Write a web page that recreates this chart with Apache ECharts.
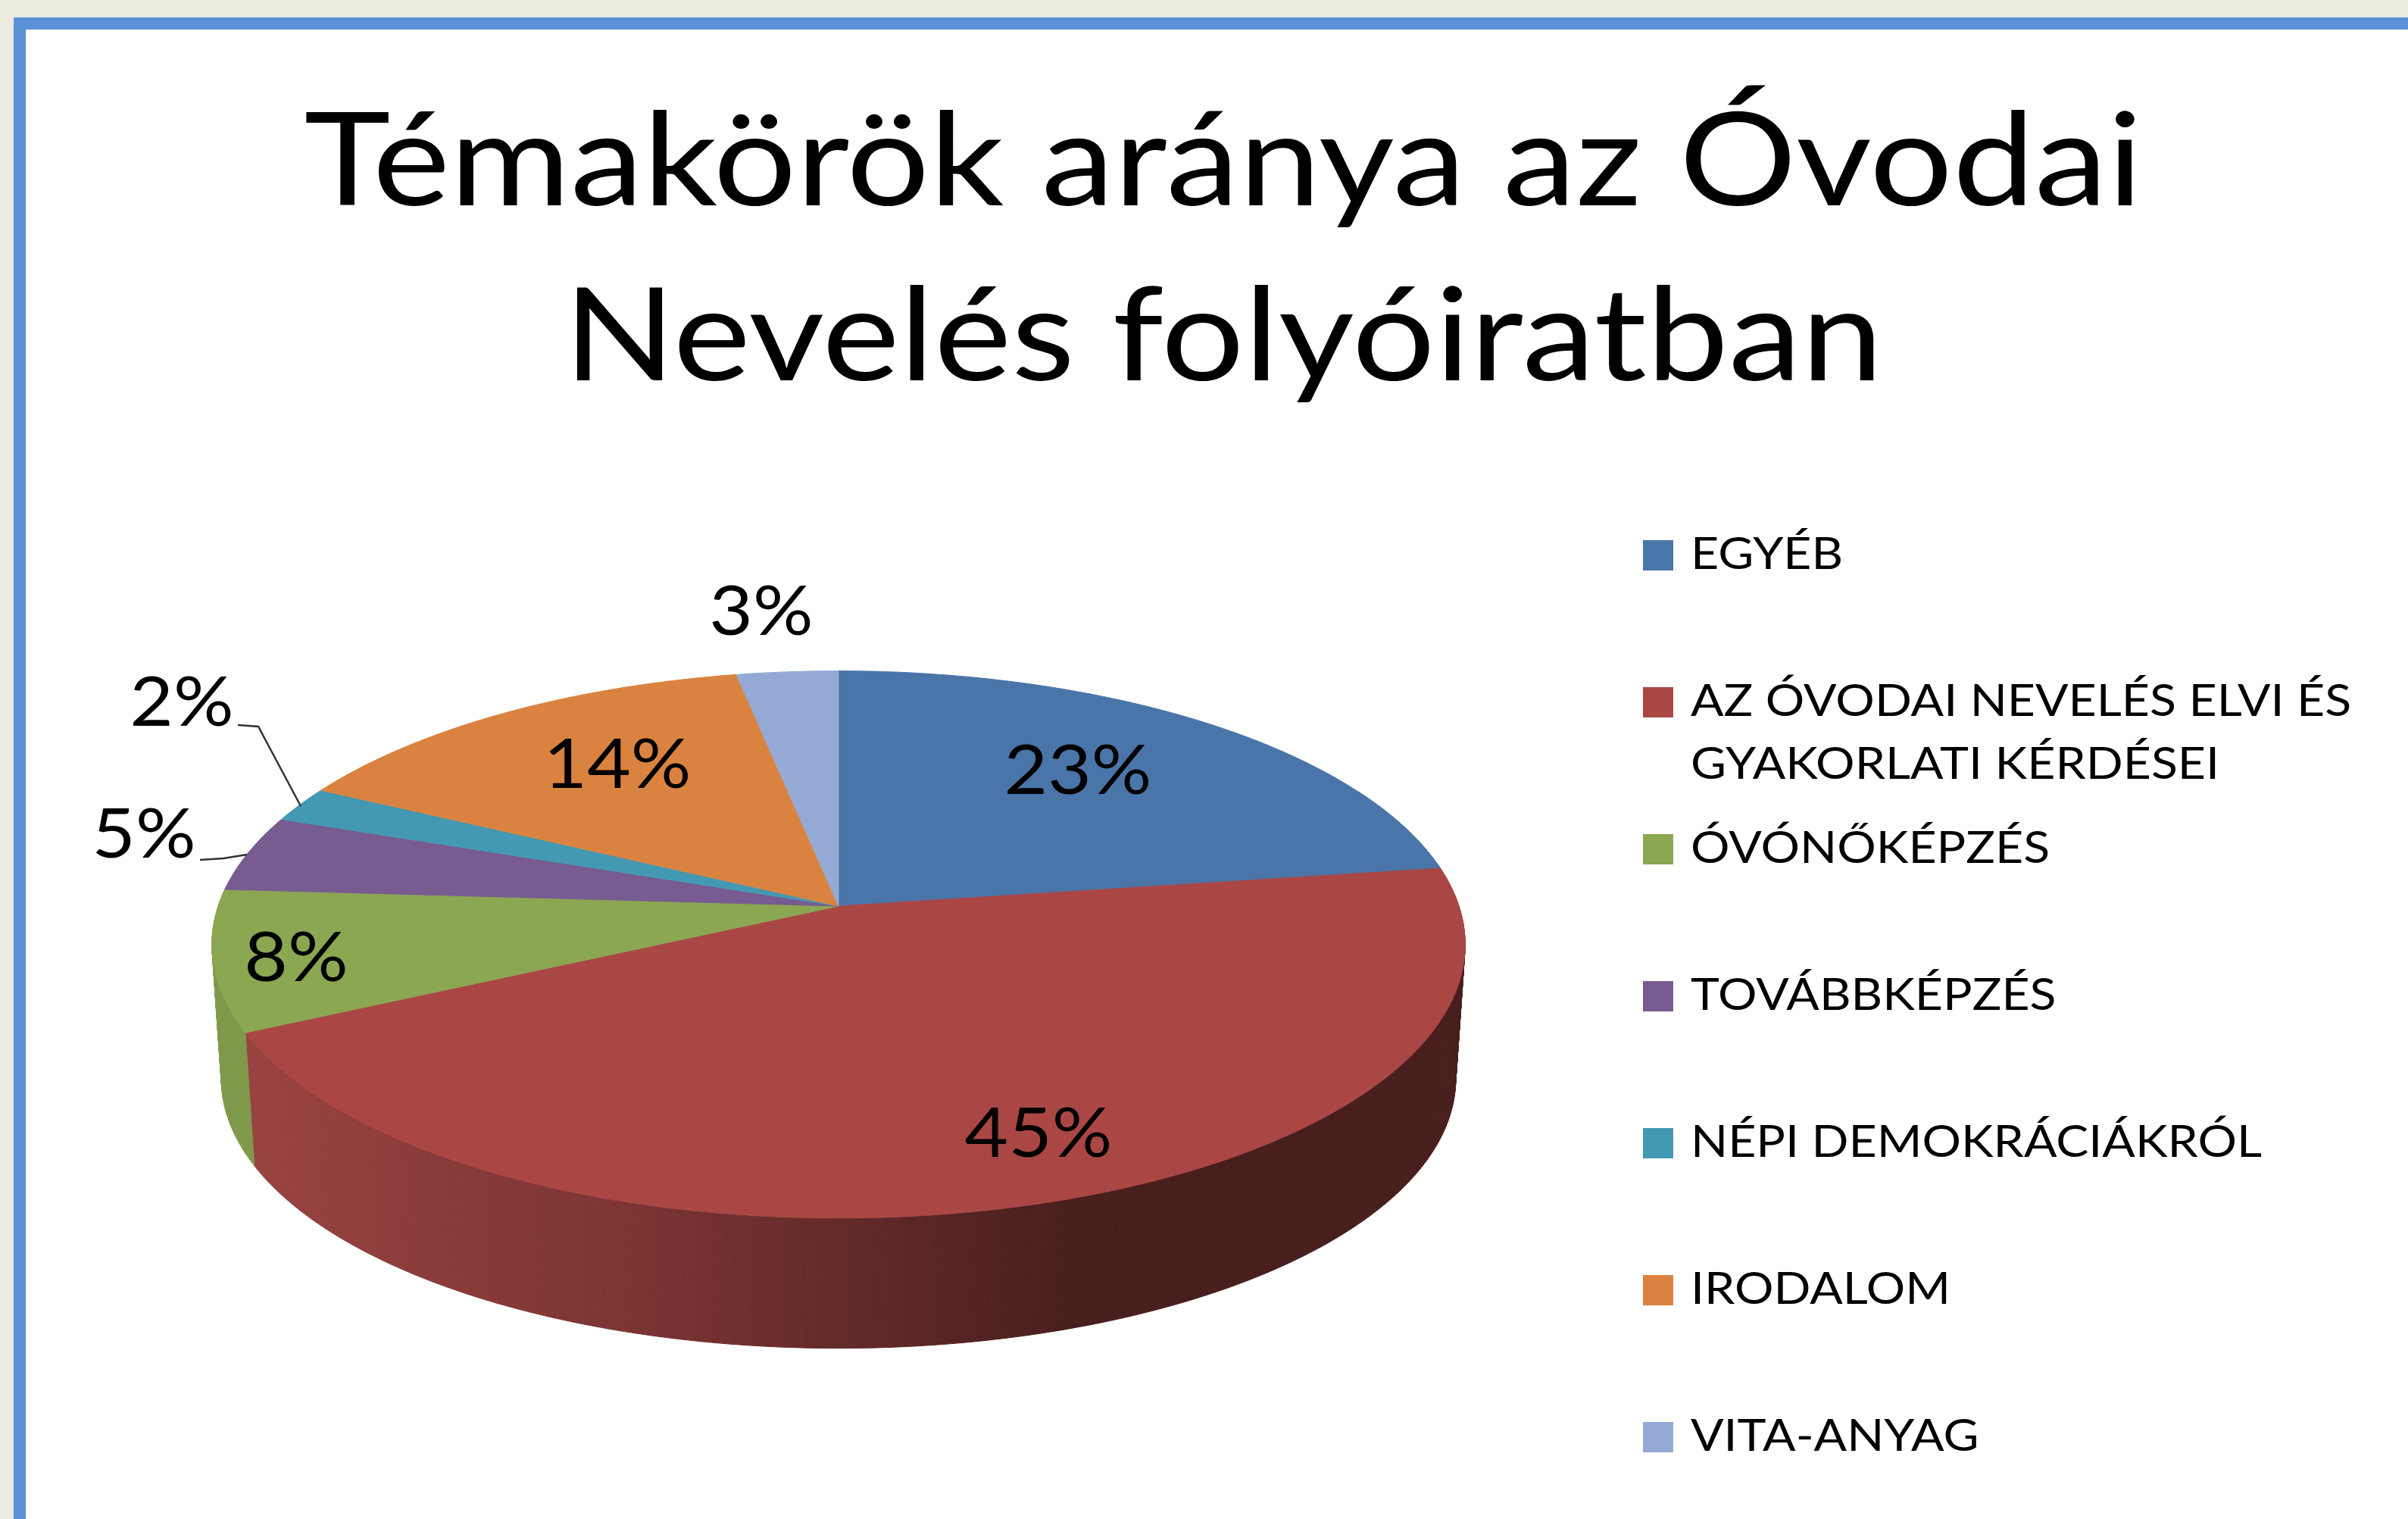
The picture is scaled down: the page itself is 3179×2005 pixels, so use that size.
<!DOCTYPE html>
<html>
<head>
    <meta charset="utf-8">
    <title>Témakörök aránya</title>
    <script src="https://cdnjs.cloudflare.com/ajax/libs/echarts/6.0.0/echarts.min.js"></script>
    <style>
        html, body { margin: 0; padding: 0; background: #ecebdf; overflow: hidden; }
        #frame { position: absolute; left: 18px; top: 23px; width: 3161px; height: 1982px; background: #5b91d6; }
        #inner { position: absolute; left: 34px; top: 39px; width: 3145px; height: 1966px; background: #fff; }
        #chart { position: absolute; left: 0; top: 0; width: 3179px; height: 2005px; }
    </style>
</head>
<body>
<div id="frame"></div>
<div id="inner"></div>
<div id="chart"></div>

<script>
const titleLines = ['Témakörök aránya az Óvodai', 'Nevelés folyóiratban'];
const categories = ['EGYÉB', 'AZ ÓVODAI NEVELÉS ELVI ÉS\nGYAKORLATI KÉRDÉSEI', 'ÓVÓNŐKÉPZÉS', 'TOVÁBBKÉPZÉS', 'NÉPI DEMOKRÁCIÁKRÓL', 'IRODALOM', 'VITA-ANYAG'];
// estimated from the slice edges, the labels show them rounded
const values = [22.7, 45, 8.3, 4.5, 2.1, 14.4, 3];
const colors = ['#4a75a9', '#aa4745', '#8ba751', '#775b91', '#4499b2', '#da8340', '#94aad4'];

// label places on the page, same order as values
const labelPos = [[1423, 1018], [1371, 1497], [391, 1265], [190, 1102], [240, 928], [815, 1010], [1005, 808]];
const leaders = { 3: [[264, 1135], [295, 1133], [326, 1128]], 4: [[314, 957], [341, 959], [397, 1064]] };

const FONT = 'Lato, "Open Sans", sans-serif';

// tilted disc: circle -> page with a little perspective, the far side is shorter
const apexX = 1107, apexY = 1196, radX = 819, radY = 354, persp = 0.1404;
const baseY = 1374, baseScale = 0.985;

const total = values.reduce((a, b) => a + b, 0);
let run = 0;
const starts = values.map(v => { const s = run; run += v; return s; });
const toAngle = v => v / total * Math.PI * 2;

function project(theta, scale, originY) {
    const d = 1 + persp * Math.cos(theta);
    return [apexX + scale * radX * Math.sin(theta) / d, originY - scale * radY * Math.cos(theta) / d];
}

function arc(from, to, scale, originY) {
    const n = Math.max(2, Math.ceil((to - from) / 0.01));
    const pts = [];
    for (let i = 0; i <= n; i++) pts.push(project(from + (to - from) * i / n, scale, originY));
    return pts;
}

const redSide = new echarts.graphic.LinearGradient(330, 0, 1420, 0, [
    { offset: 0, color: '#984340' },
    { offset: 0.45, color: '#7c3533' },
    { offset: 1, color: '#481f1d' }
], true);
const sideColors = ['#3a5c86', redSide, '#7f994b', '#5d4772', '#35788c', '#ad6932', '#7688a9'];

function renderSide(params, api) {
    const i = params.dataIndex;
    // only the front part of the rim can be seen
    const from = Math.max(toAngle(starts[i]), 1.1);
    const to = Math.min(toAngle(starts[i] + api.value(0)), 4.77);
    if (to <= from) return null;
    const top = arc(from, to, 1, apexY);
    const bottom = arc(from, to, baseScale, baseY);
    // small quads, one outline would fold over itself where the rim turns
    const children = [];
    for (let k = 0; k < top.length - 1; k++) {
        children.push({
            type: 'polygon',
            shape: { points: [top[k], top[k + 1], bottom[k + 1], bottom[k]] },
            style: { fill: sideColors[i], stroke: sideColors[i], lineWidth: 1 }
        });
    }
    return { type: 'group', children: children };
}

function renderTop(params, api) {
    const i = params.dataIndex;
    const from = toAngle(starts[i]);
    const to = toAngle(starts[i] + api.value(0));
    const pts = [[apexX, apexY]].concat(arc(from, to, 1, apexY));
    const children = [{
        type: 'polygon',
        shape: { points: pts },
        style: { fill: colors[i], stroke: colors[i], lineWidth: 1 }
    }];
    if (leaders[i]) {
        children.push({
            type: 'polyline',
            z2: 5,
            shape: { points: leaders[i] },
            style: { fill: null, stroke: '#333', lineWidth: 2.5 }
        });
    }
    return { type: 'group', children: children };
}

function renderLabel(params, api) {
    const c = labelPos[params.dataIndex];
    return {
        type: 'text',
        x: c[0], y: c[1],
        scaleX: 1.08,
        style: {
            text: Math.round(api.value(0)) + '%',
            fill: '#000',
            fontSize: 92,
            fontFamily: FONT,
            align: 'center',
            verticalAlign: 'middle'
        }
    };
}

function renderLegend(params) {
    const i = params.dataIndex;
    const y = 733 + 194 * i;
    return {
        type: 'group',
        children: [{
            type: 'rect',
            shape: { x: 2169, y: y - 20, width: 40, height: 40 },
            style: { fill: colors[i] }
        }, {
            type: 'text',
            x: 2232, y: y - 42,
            scaleX: 1.11,
            style: {
                text: categories[i],
                fill: '#000',
                fontSize: 58,
                lineHeight: 83,
                fontFamily: FONT,
                align: 'left',
                verticalAlign: 'top'
            }
        }]
    };
}

const chart = echarts.init(document.getElementById('chart'));
chart.setOption({
    animation: false,
    graphic: titleLines.map((line, i) => ({
        type: 'text',
        x: 1615,
        y: 216 + 231 * i,
        scaleX: 1.13,
        style: {
            text: line,
            fill: '#000',
            fontFamily: FONT,
            fontSize: 171,
            align: 'center',
            verticalAlign: 'middle'
        }
    })),
    series: [
        { type: 'custom', coordinateSystem: 'none', silent: true, z: 1, data: values, renderItem: renderSide },
        { type: 'custom', coordinateSystem: 'none', silent: true, z: 2, data: values, renderItem: renderTop },
        { type: 'custom', coordinateSystem: 'none', silent: true, z: 3, data: values, renderItem: renderLabel },
        { type: 'custom', coordinateSystem: 'none', silent: true, z: 3, data: categories.map((c, i) => i), renderItem: renderLegend }
    ]
});

window.addEventListener('resize', () => chart.resize());
</script>
</body>
</html>
